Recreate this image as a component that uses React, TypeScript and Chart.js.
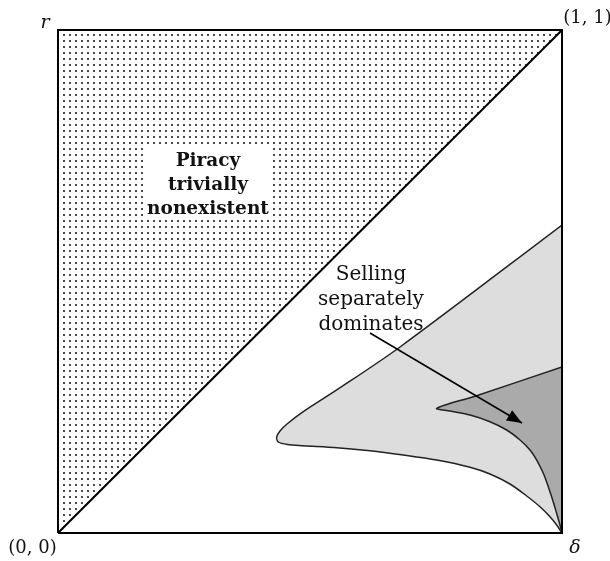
import React, { useEffect, useRef } from "react";
import { Chart, registerables } from "chart.js";

Chart.register(...registerables);

// Parameter space: delta on the horizontal axis, r on the vertical axis (unit square).
const SQUARE_X = [0, 1, 1, 0, 0];
const SQUARE_Y = [0, 0, 1, 1, 0];

// Region above the diagonal r > delta (piracy trivially nonexistent).
const TRIANGLE_X = [0, 1, 0, 0];
const TRIANGLE_Y = [0, 1, 1, 0];

const DIAGONAL_X = [0, 1];
const DIAGONAL_Y = [0, 1];

// Outer region: upper boundary from the right edge to the rounded tip, then lower boundary back to (1, 0).
const LIGHT_X = [
  1, 0.6786, 0.553, 0.4867, 0.4544, 0.4405, 0.4339, 0.4371, 0.4554,
  0.4867, 0.553, 0.619, 0.6851, 0.7514, 0.8175, 0.8571, 0.8968, 0.93, 0.9563, 0.9762, 0.9895, 1,
];
const LIGHT_Y = [
  0.6123, 0.3698, 0.2843, 0.2412, 0.2167, 0.2028, 0.1909, 0.1809, 0.1759,
  0.1736, 0.1696, 0.1636, 0.1551, 0.1451, 0.1308, 0.1173, 0.0974, 0.0736, 0.0523, 0.0324, 0.0159, 0,
];

// Inner region where selling separately dominates.
const DARK_X = [
  1, 0.8274, 0.7514, 0.7778, 0.8175, 0.8571, 0.8903, 0.9167, 0.9365, 0.9498, 0.9629, 0.9728, 0.9815, 0.9891,
  0.996, 1,
];
const DARK_Y = [
  0.33, 0.272, 0.2479, 0.2425, 0.2346, 0.2213, 0.2048, 0.1849, 0.165, 0.1451, 0.1187, 0.092, 0.0656, 0.0398,
  0.0159, 0,
];

// Arrow from the label into the inner region.
const ARROW_X = [0.619, 0.9206];
const ARROW_Y = [0.3976, 0.2187];

const PIRACY_LINES = ["Piracy", "trivially", "nonexistent"];
const SELLING_LINES = ["Selling", "separately", "dominates"];

const pts = (xs: number[], ys: number[]) => xs.map((x, i) => ({ x, y: ys[i] }));

function makeDotPattern(): CanvasPattern | string {
  const c = document.createElement("canvas");
  c.width = 6;
  c.height = 6;
  const g = c.getContext("2d");
  if (!g) return "#ccc";
  g.fillStyle = "#ffffff";
  g.fillRect(0, 0, 6, 6);
  g.fillStyle = "#4a4a4a";
  g.fillRect(3, 4, 2, 2);
  const p = g.createPattern(c, "repeat");
  return p || "#ccc";
}

type TextBlock = {
  lines: string[];
  x: number;
  y: number[];
  font: string;
  box?: [number, number, number, number];
};

type CornerLabel = { text: string; x: number; y: number; dx: number; dy: number; font: string };

const TEXT_BLOCKS: TextBlock[] = [
  {
    lines: PIRACY_LINES,
    x: 0.2976,
    y: [0.7296, 0.6819, 0.6342],
    font: "bold 18.5px 'DejaVu Serif'",
    box: [0.1726, 0.7734, 0.4206, 0.6243],
  },
  {
    lines: SELLING_LINES,
    x: 0.621,
    y: [0.503, 0.4533, 0.4036],
    font: "20px 'DejaVu Serif'",
  },
];

const CORNER_LABELS: CornerLabel[] = [
  { text: "(0, 0)", x: 0, y: 0, dx: -25.5, dy: 15, font: "18px 'DejaVu Serif'" },
  { text: "(1, 1)", x: 1, y: 1, dx: 25.5, dy: -11.5, font: "18px 'DejaVu Serif'" },
  { text: "r", x: 0, y: 1, dx: -13, dy: -6.5, font: "italic 19px 'DejaVu Serif'" },
  { text: "δ", x: 1, y: 0, dx: 13, dy: 15, font: "italic 19px 'DejaVu Serif'" },
];

const annotationPlugin = {
  id: "regionText",
  afterDatasetsDraw(chart: any) {
    const { ctx, scales } = chart;
    const sx = scales.x;
    const sy = scales.y;
    ctx.save();
    for (const b of TEXT_BLOCKS) {
      if (b.box) {
        const x0 = sx.getPixelForValue(b.box[0]);
        const y0 = sy.getPixelForValue(b.box[1]);
        const x1 = sx.getPixelForValue(b.box[2]);
        const y1 = sy.getPixelForValue(b.box[3]);
        ctx.fillStyle = "#ffffff";
        ctx.fillRect(x0, y0, x1 - x0, y1 - y0);
      }
      ctx.fillStyle = "#111";
      ctx.font = b.font;
      ctx.textAlign = "center";
      ctx.textBaseline = "alphabetic";
      b.lines.forEach((line, i) => {
        ctx.fillText(line, sx.getPixelForValue(b.x), sy.getPixelForValue(b.y[i]));
      });
    }
    for (const l of CORNER_LABELS) {
      ctx.font = l.font;
      ctx.fillStyle = "#111";
      ctx.textAlign = "center";
      ctx.textBaseline = "middle";
      ctx.fillText(l.text, sx.getPixelForValue(l.x) + l.dx, sy.getPixelForValue(l.y) + l.dy);
    }
    ctx.restore();
  },
};

const arrowHeadPlugin = {
  id: "arrowHead",
  afterDatasetsDraw(chart: any) {
    const idx = chart.data.datasets.findIndex((d: any) => d.label === "arrow");
    if (idx < 0) return;
    const meta = chart.getDatasetMeta(idx);
    const n = meta.data.length;
    if (n < 2) return;
    const a = meta.data[n - 2];
    const b = meta.data[n - 1];
    const ang = Math.atan2(b.y - a.y, b.x - a.x);
    const len = 15;
    const half = 6;
    const ctx = chart.ctx;
    ctx.save();
    ctx.translate(b.x, b.y);
    ctx.rotate(ang);
    ctx.beginPath();
    ctx.moveTo(0, 0);
    ctx.lineTo(-len, -half);
    ctx.lineTo(-len, half);
    ctx.closePath();
    ctx.fillStyle = "#000";
    ctx.fill();
    ctx.restore();
  },
};

export default function App() {
  const ref = useRef<HTMLCanvasElement | null>(null);

  useEffect(() => {
    const canvas = ref.current;
    if (!canvas) return;
    const dots = makeDotPattern();
    const chart = new Chart(canvas, {
      type: "scatter",
      data: {
        datasets: [
          {
            label: "border",
            data: pts(SQUARE_X, SQUARE_Y),
            showLine: true,
            borderColor: "#000",
            borderWidth: 2,
            pointRadius: 0,
            tension: 0,
            fill: false,
            clip: false,
            order: 0,
          } as any,
          {
            label: "diagonal",
            data: pts(DIAGONAL_X, DIAGONAL_Y),
            showLine: true,
            borderColor: "#000",
            borderWidth: 2,
            pointRadius: 0,
            fill: false,
            order: 1,
          },
          {
            label: "arrow",
            data: pts(ARROW_X, ARROW_Y),
            showLine: true,
            borderColor: "#000",
            borderWidth: 1.5,
            pointRadius: 0,
            fill: false,
            order: 2,
          },
          {
            label: "dominates",
            data: pts(DARK_X, DARK_Y),
            showLine: true,
            borderColor: "#222",
            borderWidth: 1.5,
            backgroundColor: "#aaaaaa",
            pointRadius: 0,
            tension: 0.3,
            fill: "shape",
            order: 3,
          } as any,
          {
            label: "outer",
            data: pts(LIGHT_X, LIGHT_Y),
            showLine: true,
            borderColor: "#222",
            borderWidth: 1.5,
            backgroundColor: "#dddddd",
            pointRadius: 0,
            tension: 0.3,
            fill: "shape",
            order: 4,
          } as any,
          {
            label: "piracy",
            data: pts(TRIANGLE_X, TRIANGLE_Y),
            showLine: true,
            borderWidth: 0,
            borderColor: "rgba(0,0,0,0)",
            backgroundColor: dots as any,
            pointRadius: 0,
            tension: 0,
            fill: "shape",
            order: 5,
          } as any,
        ],
      },
      options: {
        animation: false,
        responsive: false,
        layout: { padding: { left: 58, right: 48, top: 30, bottom: 28 } },
        plugins: { legend: { display: false }, tooltip: { enabled: false } },
        events: [],
        scales: {
          x: { type: "linear", min: 0, max: 1, display: false },
          y: { type: "linear", min: 0, max: 1, display: false },
        },
      },
      plugins: [annotationPlugin, arrowHeadPlugin],
    });
    return () => chart.destroy();
  }, []);

  return (
    <div style={{ position: "fixed", left: 0, top: 0, width: 610, height: 561, background: "#fff" }}>
      <canvas ref={ref} width={610} height={561} style={{ display: "block" }} />
    </div>
  );
}
